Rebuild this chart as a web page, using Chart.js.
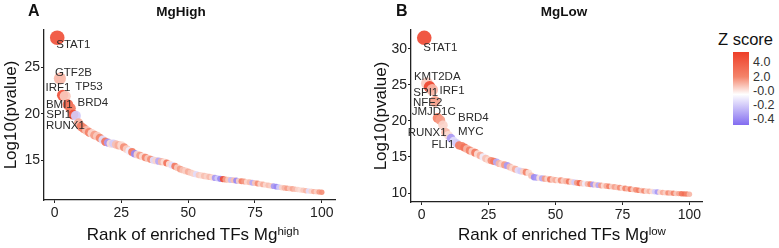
<!DOCTYPE html>
<html>
<head>
<meta charset="utf-8">
<script src="https://cdn.jsdelivr.net/npm/chart.js@4.4.1/dist/chart.umd.min.js"></script>
<style>
  body { margin: 0; width: 779px; height: 248px; background: #fff; position: relative; overflow: hidden;
         font-family: "Liberation Sans", Arial, sans-serif; color: #111; }
  canvas { position: absolute; top: 0; }
  .txt { position: absolute; white-space: nowrap; }
  .tag { font-weight: bold; font-size: 16px; line-height: 16px; top: 3px; }
  .ptitle { font-weight: bold; font-size: 13.5px; line-height: 13.5px; top: 5px; width: 120px; text-align: center; }
  .xtitle { font-size: 17px; line-height: 17px; top: 226px; width: 300px; text-align: center; }
  .xtitle sup { font-size: 11.5px; position: relative; top: -5px; vertical-align: baseline; }
  .ztitle { font-size: 16.5px; line-height: 16.5px; left: 718px; top: 31px; }
  .zlab { font-size: 12.5px; line-height: 12.5px; left: 753px; color: #333; }
  #zbar { position: absolute; left: 733px; top: 52px; width: 16px; height: 73px; }
</style>
</head>
<body>
<canvas id="chartA" width="370" height="248" style="left:0"></canvas>
<canvas id="chartB" width="340" height="248" style="left:370px"></canvas>

<div class="txt tag" style="left:28px">A</div>
<div class="txt ptitle" style="left:121px">MgHigh</div>
<div class="txt tag" style="left:396px">B</div>
<div class="txt ptitle" style="left:504px">MgLow</div>
<div class="txt xtitle" style="left:43px">Rank of enriched TFs Mg<sup>high</sup></div>
<div class="txt xtitle" style="left:412px">Rank of enriched TFs Mg<sup>low</sup></div>
<div class="txt ztitle">Z score</div>
<div id="zbar"></div>
<div id="zlabels"></div>

<script>
// -log10 p-values, ordered by rank (rank = position + 1)
const pvalA = [
  28.2, 23.8, 22.0, 21.9, 21.0, 20.6, 19.9, 19.8, 19.0, 18.6,
  18.4, 18.2, 18.0, 17.9, 17.7, 17.6, 17.4, 17.2, 17.0, 16.9,
  16.8, 16.8, 16.7, 16.6, 16.6, 16.4, 16.2, 16.0, 15.9, 15.7,
  15.6, 15.5, 15.4, 15.3, 15.2, 15.1, 15.0, 14.95, 14.9, 14.85,
  14.8, 14.7, 14.6, 14.45, 14.35, 14.2, 14.05, 13.95, 13.85, 13.75,
  13.65, 13.55, 13.5, 13.4, 13.35, 13.3, 13.25, 13.2, 13.15, 13.1,
  13.05, 13.0, 12.97, 12.93, 12.9, 12.87, 12.84, 12.8, 12.77, 12.74,
  12.7, 12.66, 12.62, 12.58, 12.54, 12.5, 12.45, 12.4, 12.35, 12.3,
  12.25, 12.2, 12.15, 12.1, 12.06, 12.02, 11.98, 11.95, 11.92, 11.88,
  11.84, 11.8, 11.76, 11.72, 11.68, 11.65, 11.62, 11.6, 11.58, 11.55
];
const zA = [
  4.5, 1.0, 4.5, 0.6, 3.5, 2.5, 4.5, -0.2, 1.2, 2.5,
  2.0, 0.8, 2.2, 0.3, 1.5, 0.6, 2.0, -0.15, 2.8, -0.35,
  0.2, -0.2, 0.8, 1.2, 0.3, 1.8, 0.5, -0.1, 2.5, -0.4,
  0.4, 1.5, 0.2, 2.0, 0.6, 1.8, -0.15, 0.4, -0.3, 1.0,
  0.2, 2.8, 0.1, -0.15, 2.5, 0.6, 1.5, 0.8, 0.5, 1.2,
  0.6, 0.4, -0.15, 0.6, 0.3, 0.8, 0.4, 0.9, 0.3, -0.35,
  -0.2, -0.4, 4.5, 1.5, 0.6, -0.25, 0.8, -0.4, 0.5, 2.2,
  1.5, 0.3, 0.9, -0.3, 0.7, 1.8, 0.4, 1.2, 0.3, 0.8,
  0.5, -0.35, -0.4, -0.2, 0.4, 1.0, 1.5, 0.7, 1.3, 0.9,
  0.4, 0.2, 0.6, 1.0, -0.15, 0.4, 1.2, 0.5, 1.5, 1.8
];
const pvalB = [
  31.5, 25.2, 24.7, 24.3, 22.7, 20.4, 20.1, 19.4, 18.4, 18.0,
  17.6, 17.2, 16.9, 16.6, 16.5, 16.3, 16.1, 15.9, 15.75, 15.6,
  15.4, 15.2, 15.0, 14.8, 14.6, 14.5, 14.4, 14.3, 14.1, 14.0,
  13.9, 13.8, 13.6, 13.45, 13.3, 13.15, 13.05, 13.0, 12.9, 12.8,
  12.4, 12.2, 12.15, 12.1, 12.05, 12.0, 11.95, 11.9, 11.85, 11.8,
  11.78, 11.75, 11.7, 11.65, 11.6, 11.55, 11.48, 11.42, 11.38, 11.34,
  11.3, 11.26, 11.22, 11.18, 11.15, 11.1, 11.06, 11.02, 10.98, 10.94,
  10.9, 10.85, 10.8, 10.75, 10.7, 10.65, 10.6, 10.55, 10.5, 10.45,
  10.4, 10.35, 10.3, 10.27, 10.24, 10.21, 10.18, 10.15, 10.12, 10.09,
  10.06, 10.03, 10.0, 9.98, 9.95, 9.93, 9.91, 9.89, 9.87, 9.85
];
const zB = [
  4.8, 0.6, 5.0, 1.0, 1.5, 2.2, 1.5, 0.4, 1.0, 0.2,
  -0.35, -0.15, -0.2, 2.5, 2.0, 2.8, 1.0, 2.2, 0.5, 2.5,
  0.2, 1.2, -0.1, 0.8, 0.3, 1.8, 2.5, -0.3, 1.0, 0.4,
  1.5, -0.35, 0.9, 0.3, 1.2, -0.15, -0.2, 0.5, 2.0, 0.2,
  0.8, -0.4, -0.35, 0.1, -0.3, 1.5, 0.4, 2.5, 0.6, 1.2,
  0.2, 1.8, 0.5, 1.0, 2.5, 0.3, -0.2, 1.5, 3.5, 0.6,
  -0.1, 0.9, 2.0, -0.35, 0.4, -0.3, 1.5, 0.2, 1.2, 2.2,
  0.5, 1.4, 0.8, 1.8, 0.3, 2.0, 1.0, 2.5, 0.6, 1.7,
  2.2, 0.8, 1.9, 0.4, 1.1, 0.2, -0.2, -0.35, 0.3, 1.2,
  0.5, 1.8, 0.9, 2.0, 0.6, 1.3, 2.5, 3.0, 2.0, 1.0
];

const tfLabelsA = ['STAT1', 'GTF2B', 'IRF1', 'TP53', 'BMI1', 'BRD4', 'SPI1', 'RUNX1'];
const tfRanksA = [1, 2, 3, 4, 5, 6, 7, 8];
const tfLabelsB = ['STAT1', 'KMT2DA', 'IRF1', 'SPI1', 'NFE2', 'JMJD1C', 'BRD4', 'RUNX1', 'MYC', 'FLI1'];
const tfRanksB = [1, 2, 3, 4, 5, 6, 8, 9, 11, 13];

const xTicks = [0, 25, 50, 75, 100];
const yTicksA = [15, 20, 25];
const yTicksB = [10, 15, 20, 25, 30];
const zLegendLabels = ['4.0', '2.0', '-0.0', '-0.2', '-0.4'];
const zLegendValues = [4, 2, 0, -0.2, -0.4];

// label offsets from their point (pixels), like ggrepel placed them
const labelOffsetA = [[-1, 7], [-5, -6], [-17, -7], [10, -9], [-22, 0], [7, -5], [-27, 0], [-30, 10]];
const labelOffsetB = [[-1, 10], [-13, -6], [10, 4], [-19, 3], [-22, 1], [-26, -6], [15, -7], [-38, 0], [7, -6], [-25, 2]];

// colour bar: label positions along the bar (0 = top, 1 = bottom)
const barPos = [0.137, 0.34, 0.534, 0.726, 0.918];
const colorStops = [
  [0, [238, 62, 40]],
  [0.34, [244, 132, 106]],
  [0.58, [255, 255, 255]],
  [1, [130, 108, 240]]
];

function zToPos(z) {
  const v = zLegendValues;
  if (z >= v[0]) return Math.max(0, barPos[0] - (z - v[0]) / (v[0] - v[1]) * (barPos[1] - barPos[0]));
  if (z <= v[v.length - 1]) return Math.min(1, barPos[4] + (v[4] - z) / (v[3] - v[4]) * (barPos[4] - barPos[3]));
  for (let i = 0; i < v.length - 1; i++) {
    if (z <= v[i] && z >= v[i + 1]) {
      const t = (v[i] - z) / (v[i] - v[i + 1]);
      return barPos[i] + t * (barPos[i + 1] - barPos[i]);
    }
  }
  return 0.5;
}

function posToRgb(p) {
  for (let i = 0; i < colorStops.length - 1; i++) {
    const [p0, c0] = colorStops[i];
    const [p1, c1] = colorStops[i + 1];
    if (p >= p0 && p <= p1) {
      const t = (p - p0) / (p1 - p0);
      return c0.map((c, k) => Math.round(c + (c1[k] - c) * t));
    }
  }
  return colorStops[colorStops.length - 1][1];
}

function zColor(z) {
  const c = posToRgb(zToPos(z));
  return `rgba(${c[0]},${c[1]},${c[2]},0.92)`;
}

// legend
const bar = document.getElementById('zbar');
bar.style.background = 'linear-gradient(to bottom, ' +
  colorStops.map(s => `rgb(${s[1].join(',')}) ${s[0] * 100}%`).join(', ') + ')';
const zl = document.getElementById('zlabels');
zLegendLabels.forEach((txt, i) => {
  const d = document.createElement('div');
  d.className = 'txt zlab';
  d.textContent = txt;
  d.style.top = (52 + barPos[i] * 73 - 6) + 'px';
  zl.appendChild(d);
});

const tfLabelPlugin = {
  id: 'tfLabels',
  afterDatasetsDraw(chart, args, opts) {
    const ctx = chart.ctx;
    const pts = chart.getDatasetMeta(0).data;
    ctx.save();
    ctx.font = '11.5px "Liberation Sans", Arial, sans-serif';
    ctx.fillStyle = '#2b2b2b';
    ctx.textAlign = 'left';
    ctx.textBaseline = 'middle';
    opts.names.forEach((name, i) => {
      const p = pts[opts.ranks[i] - 1];
      ctx.fillText(name, p.x + opts.offsets[i][0], p.y + opts.offsets[i][1]);
    });
    ctx.restore();
  }
};

function makePanel(id, pvals, zs, yTicks, names, ranks, offsets, sizes) {
  const lo = Math.min(...pvals), hi = Math.max(...pvals);
  const yPad = (hi - lo) * 0.05;
  const xPad = (pvals.length - 1) * 0.05;
  const points = pvals.map((v, i) => ({ x: i + 1, y: v }));
  const radius = ctx => 2.7 + 4.6 * (pvals[ctx.dataIndex] - lo) / (hi - lo);

  return new Chart(document.getElementById(id), {
    type: 'scatter',
    data: {
      datasets: [{
        data: points,
        backgroundColor: ctx => zColor(zs[ctx.dataIndex]),
        borderWidth: 0,
        pointRadius: radius,
        pointHoverRadius: radius
      }]
    },
    options: {
      responsive: false,
      animation: false,
      clip: false,
      events: [],
      layout: { padding: { top: 30, right: sizes.right, bottom: 0, left: 0 } },
      plugins: {
        legend: { display: false },
        tooltip: { enabled: false },
        tfLabels: { names, ranks, offsets }
      },
      scales: {
        x: {
          type: 'linear',
          min: 1 - xPad,
          max: pvals.length + xPad,
          afterBuildTicks: s => { s.ticks = xTicks.map(v => ({ value: v })); },
          afterFit: s => { s.height = sizes.bottom; },
          border: { display: true, color: '#222', width: 1.3 },
          grid: { display: true, drawOnChartArea: false, drawTicks: true, tickLength: 3, color: '#222' },
          ticks: { color: '#222', padding: 2, font: { size: 14, family: '"Liberation Sans", Arial, sans-serif' } }
        },
        y: {
          type: 'linear',
          min: lo - yPad,
          max: hi + yPad,
          afterBuildTicks: s => { s.ticks = yTicks.map(v => ({ value: v })); },
          afterFit: s => { s.width = sizes.left; },
          border: { display: true, color: '#222', width: 1.3 },
          grid: { display: true, drawOnChartArea: false, drawTicks: true, tickLength: 3, color: '#222' },
          ticks: { color: '#222', padding: 1, font: { size: 14, family: '"Liberation Sans", Arial, sans-serif' } },
          title: {
            display: true,
            text: 'Log10(pvalue)',
            color: '#111',
            padding: { top: 1, bottom: 0 },
            font: { size: 17, family: '"Liberation Sans", Arial, sans-serif' }
          }
        }
      }
    },
    plugins: [tfLabelPlugin]
  });
}

makePanel('chartA', pvalA, zA, yTicksA, tfLabelsA, tfRanksA, labelOffsetA, { left: 44, right: 35, bottom: 48 });
makePanel('chartB', pvalB, zB, yTicksB, tfLabelsB, tfRanksB, labelOffsetB, { left: 41, right: 5, bottom: 46 });
</script>
</body>
</html>
